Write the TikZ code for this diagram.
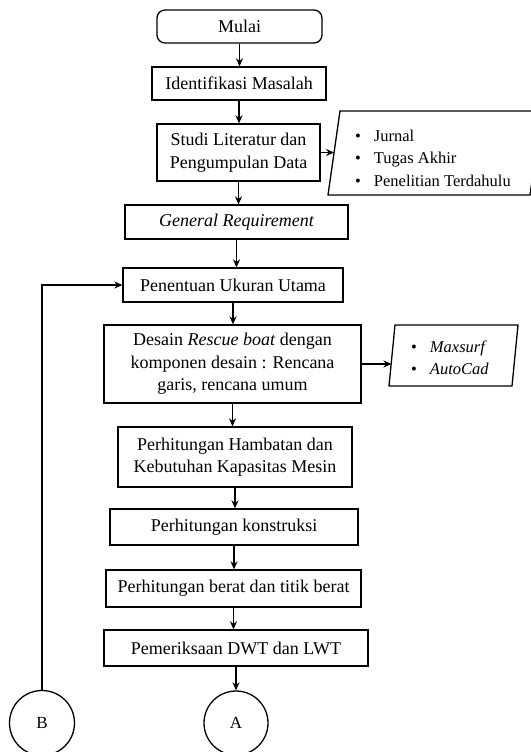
\documentclass[tikz,border=0pt]{standalone}
\usepackage{fontspec}
\setmainfont{Liberation Serif}
\usetikzlibrary{arrows.meta}
\begin{document}
\begin{tikzpicture}[x=1pt,y=-1pt,
  every node/.style={font=\fontsize{18}{22.5}\selectfont},
  box/.style={draw,line width=1.3pt,align=center,inner sep=0pt},
  list/.style={anchor=west,inner sep=0pt,font=\fontsize{16.5}{22.5}\selectfont},
  arr/.style={line width=1.3pt,-{Stealth[length=8pt,width=7pt]}},
  ln/.style={line width=1.3pt}]
\useasboundingbox (0,0) rectangle (530,752);
\node[box,rounded corners=8pt,minimum width=165pt,minimum height=33pt] (mulai) at (239.5,26.5) {Mulai};
\node[box,minimum width=174pt,minimum height=33pt] (ident) at (239,83.5) {Identifikasi Masalah};
\node[box,minimum width=163pt,minimum height=57pt] (studi) at (238.5,152.5) {Studi Literatur dan\\Pengumpulan Data};
\node[box,minimum width=223pt,minimum height=34pt] (gen) at (236.5,222) {\itshape General Requirement};
\node[box,minimum width=220pt,minimum height=34pt] (pen) at (233,285) {Penentuan Ukuran Utama};
\node[box,minimum width=257pt,minimum height=78pt] (des) at (232.5,364) {Desain \textit{Rescue boat} dengan\\komponen desain : Rencana\\garis, rencana umum};
\node[box,minimum width=234pt,minimum height=60pt] (ham) at (235,457) {Perhitungan Hambatan dan\\Kebutuhan Kapasitas Mesin};
\node[box,minimum width=248pt,minimum height=36pt] (kon) at (234,527) {Perhitungan konstruksi};
\node[box,minimum width=255pt,minimum height=37pt] (ber) at (233.5,588.5) {Perhitungan berat dan titik berat};
\node[box,minimum width=264pt,minimum height=36pt] (pem) at (236,648) {Pemeriksaan DWT dan LWT};
\node[draw,circle,line width=1.3pt,minimum size=64pt,inner sep=0pt,font=\fontsize{17}{20}\selectfont] (A) at (236,723) {A};
\node[draw,circle,line width=1.3pt,minimum size=65pt,inner sep=0pt,font=\fontsize{17}{20}\selectfont] (B) at (42,723) {B};
% parallelograms
\draw[ln] (340,111) -- (542,111) -- (530,195) -- (328,195) -- cycle;
\coordinate (p1in) at (334,152.5);
\node[list] (lit) at (355,159) {\begin{tabular}{@{}l@{\hspace{13pt}}l@{}}\textbullet & Jurnal\\ \textbullet & Tugas Akhir\\ \textbullet & Penelitian Terdahulu\end{tabular}};
\draw[ln] (395,325) -- (518,325) -- (512,386) -- (389,386) -- cycle;
\coordinate (p2in) at (391.5,364);
\node[list] (sw) at (411,359) {\begin{tabular}{@{}l@{\hspace{13pt}}l@{}}\textbullet & \textit{Maxsurf}\\ \textbullet & \textit{AutoCad}\end{tabular}};
% arrows
\draw[arr] (mulai.south) -- (mulai.south |- ident.north);
\draw[arr] (ident.south) -- (ident.south |- studi.north);
\draw[arr] (studi.south) -- (studi.south |- gen.north);
\draw[arr] (gen.south) -- (gen.south |- pen.north);
\draw[arr] (pen.south) -- (pen.south |- des.north);
\draw[arr] (des.south) -- (des.south |- ham.north);
\draw[arr] (ham.south) -- (ham.south |- kon.north);
\draw[arr] (kon.south) -- (kon.south |- ber.north);
\draw[arr] (ber.south) -- (ber.south |- pem.north);
\draw[arr] (pem.south) -- (A.north);
\draw[arr] (studi.east) -- (p1in);
\draw[arr] (des.east) -- (p2in);
\draw[arr] (B.north) |- (pen.west);
\end{tikzpicture}
\end{document}
